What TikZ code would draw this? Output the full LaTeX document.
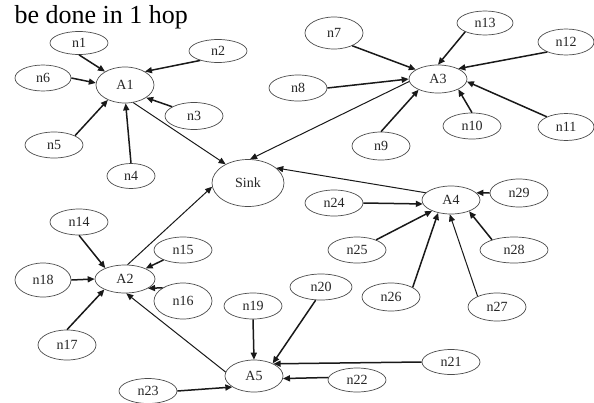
\documentclass[tikz,border=0pt]{standalone}
\usepackage{fontspec}
\setmainfont{Liberation Serif}
\usetikzlibrary{shapes.geometric,arrows.meta}
\begin{document}
\begin{tikzpicture}[x=1pt,y=-1pt,
 nd/.style 2 args={ellipse,draw=black!70,line width=0.7pt,inner sep=0pt,minimum width=#1pt,minimum height=#2pt,font=\fontsize{14}{16}\selectfont,text=black!85},
 ed/.style={line width=1.5pt,black!90,-{Triangle[length=7pt,width=6pt]}},
 sk/.style={line width=1pt,black!90,-{Triangle[length=7pt,width=6pt]}}]
\useasboundingbox[fill=white] (0,0) rectangle (594,402);
\node[anchor=base west,font=\fontsize{26}{28}\selectfont] (title) at (11,23) {be done in 1 hop};
% cluster A1
\node[nd={58}{36}] (A1) at (125,85) {A1};
\node[nd={58}{23}] (n1) at (79,43) {n1};
\node[nd={58}{23}] (n2) at (218,51) {n2};
\node[nd={56}{26}] (n6) at (43,78) {n6};
\node[nd={58}{27}] (n3) at (194,116) {n3};
\node[nd={58}{26}] (n5) at (54,145) {n5};
\node[nd={48}{25}] (n4) at (131,176) {n4};
\node[nd={72}{47}] (Sink) at (248,183) {Sink};
% cluster A3
\node[nd={58}{28}] (A3) at (438,79) {A3};
\node[nd={58}{32}] (n7) at (334,33) {n7};
\node[nd={56}{24}] (n13) at (485,23) {n13};
\node[nd={56}{26}] (n12) at (566,42) {n12};
\node[nd={58}{26}] (n8) at (298,88) {n8};
\node[nd={58}{26}] (n10) at (472,126) {n10};
\node[nd={56}{27}] (n11) at (566,127) {n11};
\node[nd={58}{28}] (n9) at (381,146) {n9};
% cluster A4
\node[nd={58}{28}] (A4) at (451,200) {A4};
\node[nd={58}{28}] (n29) at (519,193) {n29};
\node[nd={58}{26}] (n24) at (334,203) {n24};
\node[nd={58}{26}] (n25) at (357,250) {n25};
\node[nd={68}{26}] (n28) at (514,250) {n28};
\node[nd={58}{28}] (n26) at (391,297) {n26};
\node[nd={58}{28}] (n27) at (497,307) {n27};
% cluster A2
\node[nd={60}{28}] (A2) at (125,279) {A2};
\node[nd={58}{26}] (n14) at (79,222) {n14};
\node[nd={58}{26}] (n15) at (183,250) {n15};
\node[nd={56}{34}] (n18) at (43,280) {n18};
\node[nd={58}{36}] (n16) at (183,301) {n16};
\node[nd={58}{30}] (n17) at (67,345) {n17};
% cluster A5
\node[nd={58}{32}] (A5) at (254,376) {A5};
\node[nd={58}{26}] (n19) at (253,306) {n19};
\node[nd={62}{26}] (n20) at (321,287) {n20};
\node[nd={58}{25}] (n21) at (451,362) {n21};
\node[nd={58}{24}] (n22) at (357,380) {n22};
\node[nd={58}{25}] (n23) at (148,391) {n23};
% edges A1
\draw[ed] (n1.south) -- (A1.146);
\draw[ed] (n2.-152) -- (A1.34);
\draw[ed] (n6.east) -- (A1.176);
\draw[ed] (n3.157) -- (A1.-31);
\draw[ed] (n5.24) -- (A1.-139);
\draw[ed] (n4.north) -- (A1.-88);
% edges A3
\draw[ed] (n7.-35) -- (A3.157);
\draw[ed] (n13.-156) -- (A3.90);
\draw[ed] (n12.-152) -- (A3.27);
\draw[ed] (n8.east) -- (A3.180);
\draw[ed] (n9.north) -- (A3.-151);
\draw[ed] (n10.north) -- (A3.-27);
\draw[ed] (n11.152) -- (A3.-5);
% edges A4
\draw[ed] (n29.west) -- (A4.16);
\draw[ed] (n24.east) -- (A4.-172);
\draw[ed] (n25.28) -- (A4.-150);
\draw[ed] (n26.24) -- (A4.-135);
\draw[sk] (n27.151) -- (A4.-95);
\draw[ed] (n28.155) -- (A4.-32);
% edges A2
\draw[ed] (n14.south) -- (A2.151);
\draw[ed] (n15.-153) -- (A2.27);
\draw[ed] (n18.east) -- (A2.180);
\draw[ed] (n16.147) -- (A2.-22);
\draw[ed] (n17.north) -- (A2.-153);
% edges A5
\draw[ed] (n19.south) -- (A5.north);
\draw[ed] (n20.-112) -- (A5.34);
\draw[ed] (n21.west) -- (A5.32);
\draw[ed] (n22.175) -- (A5.-5);
\draw[ed] (n23.east) -- (A5.-153);
% aggregator edges
\draw[sk] (A1.-65) -- (Sink.140);
\draw[sk] (A3.-175) -- (Sink.85);
\draw[sk] (A4.164) -- (Sink.28);
\draw[sk] (A2.80) -- (Sink.-174);
\draw[sk] (A5.172) -- (A2.-85);
\end{tikzpicture}
\end{document}
